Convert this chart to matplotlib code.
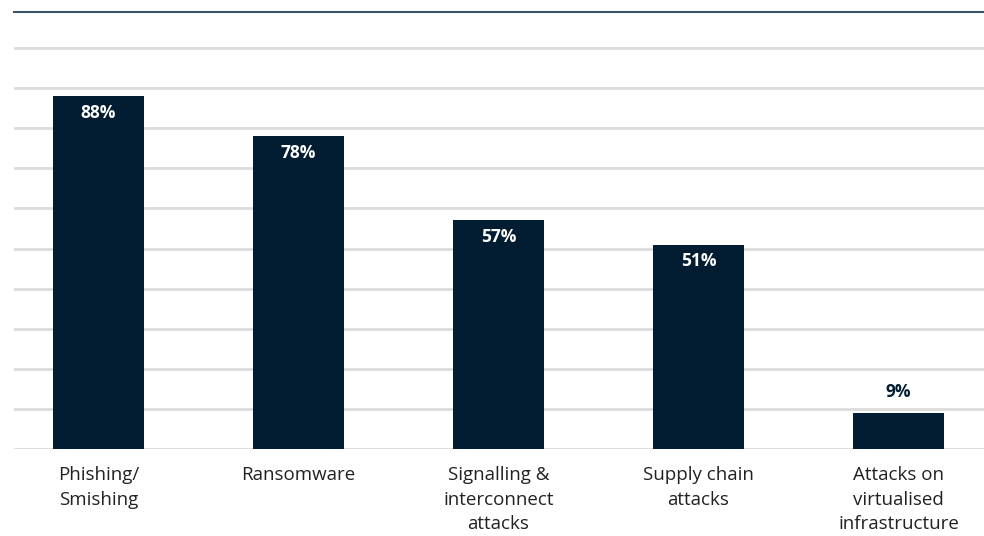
import matplotlib.pyplot as plt

categories = ['Phishing/\nSmishing', 'Ransomware', 'Signalling &\ninterconnect\nattacks',
              'Supply chain\nattacks', 'Attacks on\nvirtualised\ninfrastructure']
values = [88, 78, 57, 51, 9]

plt.rcParams['font.family'] = ['Open Sans', 'DejaVu Sans']

fig = plt.figure(figsize=(9.84, 5.36), dpi=100)
ax = fig.add_axes([14 / 984, 87 / 536, 970 / 984, 437 / 536])

x = range(len(values))
ax.bar(x, values, width=0.455, color='#021d32', zorder=3)

# value labels: inside the bar for tall bars, above it for short ones
for i, v in enumerate(values):
    if v > 20:
        ax.text(i, v - 4.1, f'{v}%', ha='center', va='center', color='white',
                fontsize=12.5, fontweight='bold', zorder=4)
    else:
        ax.text(i, v + 5.3, f'{v}%', ha='center', va='center', color='#031e33',
                fontsize=12.5, fontweight='bold', zorder=4)

ax.set_xlim(-0.4225, 4.4275)
ax.set_ylim(0, 109)
ax.set_yticks(range(0, 101, 10))
ax.yaxis.grid(True, color='#dcdcdc', linewidth=2)
ax.set_axisbelow(True)
ax.tick_params(axis='y', left=False, labelleft=False)
ax.tick_params(axis='x', bottom=False, pad=9)
ax.set_xticks(list(x))
ax.set_xticklabels(categories, fontsize=13.5, color='#222222', linespacing=1.45, va='top')

for side in ['left', 'right', 'bottom']:
    ax.spines[side].set_visible(False)
ax.spines['top'].set_color('#3d5466')
ax.spines['top'].set_linewidth(1.5)

fig.savefig('out.png', dpi=100)
